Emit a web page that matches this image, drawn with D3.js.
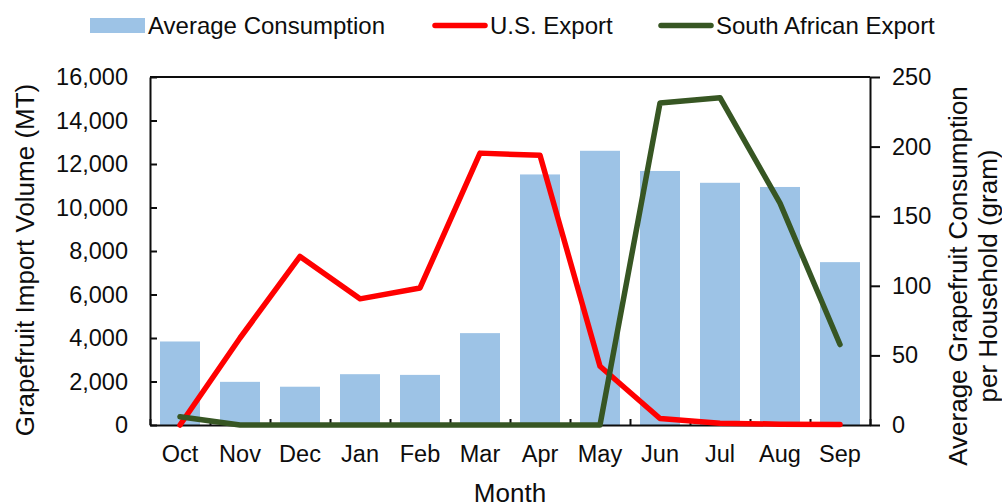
<!DOCTYPE html>
<html>
<head>
<meta charset="utf-8">
<script src="https://cdn.jsdelivr.net/npm/d3@7"></script>
<style>
  body { margin: 0; background: #fff; }
  svg text { font-family: "Liberation Sans", Arial, sans-serif; fill: #0d0d0d; }
  .axis path, .axis line { stroke: #0d0d0d; }
</style>
</head>
<body>
<svg id="chart" width="1002" height="504"></svg>
<script>
// data
var months = ["Oct","Nov","Dec","Jan","Feb","Mar","Apr","May","Jun","Jul","Aug","Sep"];
var avgConsumption = [60, 31, 27.5, 36.5, 36, 66, 180, 197, 182.5, 174, 171, 117];   // gram, right axis
var usExport = [0, 4000, 7750, 5800, 6300, 12500, 12400, 2700, 300, 80, 40, 20];      // MT, left axis
var saExport = [380, 0, 0, 0, 0, 0, 0, 0, 14800, 15050, 10200, 3700];                 // MT, left axis
var leftTicks = [0, 2000, 4000, 6000, 8000, 10000, 12000, 14000, 16000];
var rightTicks = [0, 50, 100, 150, 200, 250];

// plot box (window.top is reserved, so other names)
var pLeft = 150, pRight = 870, pTop = 77, pBottom = 425;
var svg = d3.select("#chart");

var x = d3.scaleBand().domain(months).range([pLeft, pRight])
   .paddingInner(1/3).paddingOuter(1/6);
var xEdge = d3.scaleLinear().domain([0, 12]).range([pLeft, pRight]);
var yL = d3.scaleLinear().domain([0, 16000]).range([pBottom, pTop]);
var yR = d3.scaleLinear().domain([0, 250]).range([pBottom, pTop]);

// bars (right axis)
svg.append("g").selectAll("rect").data(avgConsumption).enter().append("rect")
   .attr("x", function(d, i) { return x(months[i]); })
   .attr("y", function(d) { return yR(d); })
   .attr("width", x.bandwidth())
   .attr("height", function(d) { return pBottom - yR(d); })
   .attr("fill", "#9dc3e6");

// frame top
svg.append("line").attr("x1", pLeft).attr("x2", pRight).attr("y1", pTop).attr("y2", pTop)
   .attr("stroke", "#0d0d0d").attr("stroke-width", 2);

// left axis
svg.append("g").attr("class", "axis")
   .attr("transform", "translate(" + pLeft + ",0)")
   .call(d3.axisLeft(yL).tickValues(leftTicks).tickSizeInner(-7).tickSizeOuter(0)
      .tickPadding(22).tickFormat(d3.format(",")));
// right axis
svg.append("g").attr("class", "axis")
   .attr("transform", "translate(" + pRight + ",0)")
   .call(d3.axisRight(yR).tickValues(rightTicks).tickSizeInner(10).tickSizeOuter(0)
      .tickPadding(12));
// bottom ticks at category edges
svg.append("g").attr("class", "axis")
   .attr("transform", "translate(0," + pBottom + ")")
   .call(d3.axisBottom(xEdge).tickValues(d3.range(0, 13)).tickSizeInner(-6).tickSizeOuter(0)
      .tickFormat(""));
// month labels
var gM = svg.append("g").attr("class", "axis")
   .attr("transform", "translate(0," + pBottom + ")")
   .call(d3.axisBottom(x).tickSize(0).tickPadding(20));
gM.select(".domain").remove();

svg.selectAll(".axis .domain").attr("stroke-width", 2);
svg.selectAll(".axis line").attr("stroke-width", 2);
svg.selectAll(".axis text").style("font-size", "23.5px").attr("fill", "#0d0d0d");

// lines (left axis)
var line = d3.line()
   .x(function(d, i) { return x(months[i]) + x.bandwidth() / 2; })
   .y(function(d) { return yL(d); });

svg.append("path").datum(usExport)
   .attr("d", line).attr("fill", "none").attr("stroke", "#ff0000")
   .attr("stroke-width", 5.5).attr("stroke-linejoin", "round").attr("stroke-linecap", "round");
svg.append("path").datum(saExport)
   .attr("d", line).attr("fill", "none").attr("stroke", "#375623")
   .attr("stroke-width", 5.5).attr("stroke-linejoin", "round").attr("stroke-linecap", "round");

// axis titles
svg.append("text").attr("transform", "translate(25,260) rotate(-90)")
   .attr("text-anchor", "middle").attr("dy", "0.35em").style("font-size", "26px")
   .text("Grapefruit Import Volume  (MT)");
var rt = svg.append("text").attr("transform", "translate(958,276) rotate(-90)")
   .attr("text-anchor", "middle").style("font-size", "26px");
rt.append("tspan").attr("x", 0).attr("dy", "0.35em").text("Average Grapefruit Consumption");
rt.append("tspan").attr("x", 0).attr("dy", "30px").text("per Household (gram)");
svg.append("text").attr("x", (pLeft + pRight) / 2).attr("y", 502)
   .attr("text-anchor", "middle").style("font-size", "26px").text("Month");

// legend
var legend = [
   { name: "Average Consumption", type: "bar", color: "#9dc3e6", x: 90 },
   { name: "U.S. Export", type: "line", color: "#ff0000", x: 432 },
   { name: "South African Export", type: "line", color: "#375623", x: 658 }
];
var lg = svg.append("g");
legend.forEach(function(l) {
   if (l.type === "bar") {
      lg.append("rect").attr("x", l.x).attr("y", 18).attr("width", 55).attr("height", 15).attr("fill", l.color);
   } else {
      lg.append("line").attr("x1", l.x + 3).attr("x2", l.x + 53).attr("y1", 25.5).attr("y2", 25.5)
         .attr("stroke", l.color).attr("stroke-width", 5.5).attr("stroke-linecap", "round");
   }
   lg.append("text").attr("x", l.x + 58).attr("y", 25.5).attr("dy", "0.35em")
      .style("font-size", "24px").text(l.name);
});
</script>
</body>
</html>
